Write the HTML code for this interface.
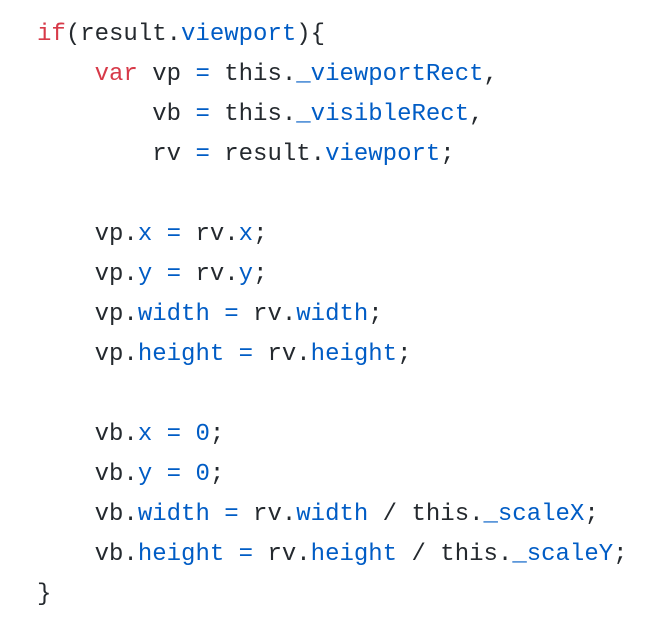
<!DOCTYPE html>
<html><head><style>
html,body{margin:0;padding:0;background:#fff;width:652px;height:618px;overflow:hidden}
pre{margin:0;position:absolute;left:37px;top:15px;font-family:"Liberation Mono","DejaVu Sans Mono",monospace;font-size:24px;line-height:40px;color:#24292e}
.k{color:#d73a49}.b{color:#005cc5}
</style></head><body><pre><span class="k">if</span>(result.<span class="b">viewport</span>){
    <span class="k">var</span> vp <span class="b">=</span> this.<span class="b">_viewportRect</span>,
        vb <span class="b">=</span> this.<span class="b">_visibleRect</span>,
        rv <span class="b">=</span> result.<span class="b">viewport</span>;

    vp.<span class="b">x</span> <span class="b">=</span> rv.<span class="b">x</span>;
    vp.<span class="b">y</span> <span class="b">=</span> rv.<span class="b">y</span>;
    vp.<span class="b">width</span> <span class="b">=</span> rv.<span class="b">width</span>;
    vp.<span class="b">height</span> <span class="b">=</span> rv.<span class="b">height</span>;

    vb.<span class="b">x</span> <span class="b">=</span> <span class="b">0</span>;
    vb.<span class="b">y</span> <span class="b">=</span> <span class="b">0</span>;
    vb.<span class="b">width</span> <span class="b">=</span> rv.<span class="b">width</span> / this.<span class="b">_scaleX</span>;
    vb.<span class="b">height</span> <span class="b">=</span> rv.<span class="b">height</span> / this.<span class="b">_scaleY</span>;
}</pre></body></html>
